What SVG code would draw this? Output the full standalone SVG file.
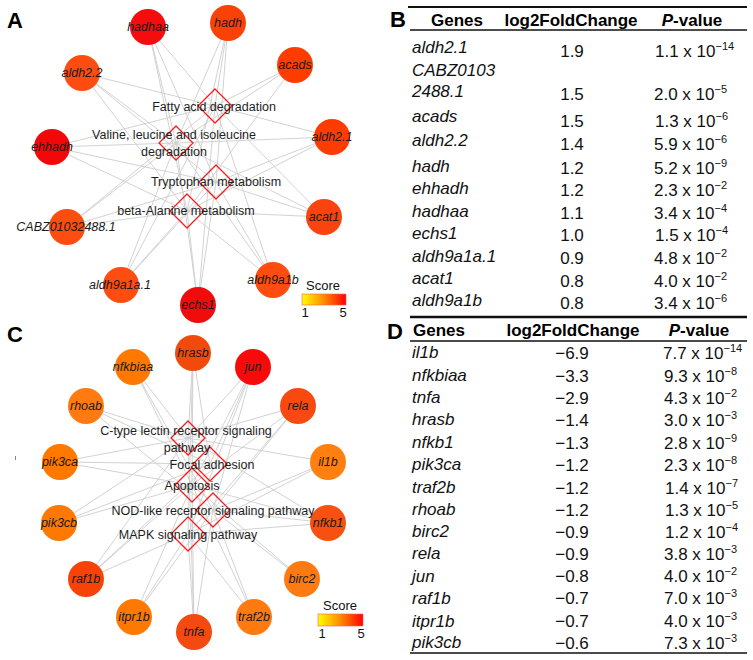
<svg xmlns="http://www.w3.org/2000/svg" width="753" height="660" viewBox="0 0 753 660">
<style>
text{font-family:"Liberation Sans",Arial,sans-serif}
.panel{font-size:22px;font-weight:bold;fill:#000}
.e line{stroke:#cdcdcd;stroke-width:0.9}
.g text{font-size:12.5px;font-style:italic;fill:#1a1a1a;text-anchor:middle}
.p path{fill:none;stroke:#f02020;stroke-width:1.3}
.pl{font-size:12.5px;fill:#1e1e1e;text-anchor:middle}
.lg{font-size:13px;fill:#111;text-anchor:middle}
.th{font-size:17px;font-weight:bold;fill:#000}
.tg{font-size:17px;font-style:italic;fill:#111}
.tv{font-size:17px;fill:#111}
.sup{font-size:11px}
</style>
<defs>
<linearGradient id="sc" x1="0" y1="0" x2="1" y2="0">
<stop offset="0" stop-color="#ffff00"/>
<stop offset="0.5" stop-color="#ff8a00"/>
<stop offset="1" stop-color="#ff0000"/>
</linearGradient>
</defs>
<rect width="753" height="660" fill="#fff"/>

<!-- Panel A -->
<text class="panel" x="7" y="28">A</text>
<g id="edgesA" class="e">
<line x1="148" y1="27" x2="215" y2="106"/><line x1="148" y1="27" x2="176" y2="143"/><line x1="148" y1="27" x2="216" y2="182"/><line x1="148" y1="27" x2="187" y2="211"/>
<line x1="228" y1="23" x2="215" y2="106"/><line x1="228" y1="23" x2="176" y2="143"/><line x1="228" y1="23" x2="216" y2="182"/><line x1="228" y1="23" x2="187" y2="211"/>
<line x1="295" y1="65" x2="215" y2="106"/><line x1="295" y1="65" x2="176" y2="143"/><line x1="295" y1="65" x2="187" y2="211"/>
<line x1="82" y1="73" x2="215" y2="106"/><line x1="82" y1="73" x2="176" y2="143"/><line x1="82" y1="73" x2="216" y2="182"/><line x1="82" y1="73" x2="187" y2="211"/>
<line x1="52" y1="147" x2="215" y2="106"/><line x1="52" y1="147" x2="176" y2="143"/><line x1="52" y1="147" x2="216" y2="182"/><line x1="52" y1="147" x2="187" y2="211"/>
<line x1="332" y1="137" x2="215" y2="106"/><line x1="332" y1="137" x2="176" y2="143"/><line x1="332" y1="137" x2="216" y2="182"/><line x1="332" y1="137" x2="187" y2="211"/>
<line x1="67" y1="227" x2="215" y2="106"/><line x1="67" y1="227" x2="176" y2="143"/><line x1="67" y1="227" x2="216" y2="182"/><line x1="67" y1="227" x2="187" y2="211"/>
<line x1="324" y1="217" x2="215" y2="106"/><line x1="324" y1="217" x2="176" y2="143"/><line x1="324" y1="217" x2="216" y2="182"/><line x1="324" y1="217" x2="187" y2="211"/>
<line x1="121" y1="285" x2="215" y2="106"/><line x1="121" y1="285" x2="176" y2="143"/><line x1="121" y1="285" x2="216" y2="182"/><line x1="121" y1="285" x2="187" y2="211"/>
<line x1="198" y1="305" x2="215" y2="106"/><line x1="198" y1="305" x2="176" y2="143"/><line x1="198" y1="305" x2="216" y2="182"/><line x1="198" y1="305" x2="187" y2="211"/>
<line x1="273" y1="280" x2="215" y2="106"/><line x1="273" y1="280" x2="176" y2="143"/><line x1="273" y1="280" x2="216" y2="182"/><line x1="273" y1="280" x2="187" y2="211"/>
</g>
<g id="pwA" class="p">
<g id="pw-fatty"><path d="M215 89 L232 106 L215 123 L198 106 Z"/></g>
<g id="pw-valine"><path d="M176 126 L193 143 L176 160 L159 143 Z"/></g>
<g id="pw-trp"><path d="M216 165 L233 182 L216 199 L199 182 Z"/></g>
<g id="pw-bala"><path d="M187 194 L204 211 L187 228 L170 211 Z"/></g>
</g>
<g class="g">
<g id="n-hadhaa"><circle cx="148" cy="27" r="18" fill="#f50c0c"/><text x="148" y="31">hadhaa</text></g>
<g id="n-hadh"><circle cx="228" cy="23" r="18" fill="#fa4208"/><text x="228" y="27">hadh</text></g>
<g id="n-acads"><circle cx="295" cy="65" r="18" fill="#ff3c00"/><text x="295" y="69">acads</text></g>
<g id="n-aldh22"><circle cx="82" cy="73" r="18" fill="#ff4c10"/><text x="82" y="77">aldh2.2</text></g>
<g id="n-ehhadh"><circle cx="52" cy="147" r="18" fill="#f20808"/><text x="52" y="151">ehhadh</text></g>
<g id="n-aldh21"><circle cx="332" cy="137" r="18" fill="#ff3c00"/><text x="332" y="141">aldh2.1</text></g>
<g id="n-cabz"><circle cx="67" cy="227" r="18" fill="#ff4c10"/><text x="66" y="231">CABZ01032488.1</text></g>
<g id="n-acat1"><circle cx="324" cy="217" r="18" fill="#fa4410"/><text x="324" y="221">acat1</text></g>
<g id="n-aldh9a1a1"><circle cx="121" cy="285" r="18" fill="#ff4c10"/><text x="120" y="289">aldh9a1a.1</text></g>
<g id="n-echs1"><circle cx="198" cy="305" r="18" fill="#f00c0c"/><text x="198" y="309">echs1</text></g>
<g id="n-aldh9a1b"><circle cx="273" cy="280" r="18" fill="#ff4c10"/><text x="273" y="284">aldh9a1b</text></g>
</g>
<text class="pl" x="214" y="111">Fatty acid degradation</text>
<text class="pl" x="174" y="139">Valine, leucine and isoleucine</text>
<text class="pl" x="174" y="156">degradation</text>
<text class="pl" x="216" y="186">Tryptophan metabolism</text>
<text class="pl" x="186" y="215">beta-Alanine metabolism</text>
<g id="legendA">
<text class="lg" x="323" y="290">Score</text>
<rect x="302" y="294" width="44" height="11" fill="url(#sc)" stroke="#f06060" stroke-width="0.6"/>
<text class="lg" x="305" y="317">1</text>
<text class="lg" x="343" y="317">5</text>
</g>

<!-- Panel C -->
<text class="panel" x="7" y="342">C</text>
<rect x="15" y="456" width="1" height="4" fill="#888"/>
<g id="edgesC" class="e">
<line x1="328" y1="462" x2="188" y2="438"/><line x1="328" y1="462" x2="213" y2="510"/><line x1="328" y1="462" x2="188" y2="534"/>
<line x1="133" y1="367" x2="188" y2="438"/><line x1="133" y1="367" x2="192" y2="485"/><line x1="133" y1="367" x2="213" y2="510"/>
<line x1="194" y1="632" x2="188" y2="438"/><line x1="194" y1="632" x2="192" y2="485"/><line x1="194" y1="632" x2="213" y2="510"/><line x1="194" y1="632" x2="188" y2="534"/>
<line x1="193" y1="353" x2="188" y2="438"/><line x1="193" y1="353" x2="210" y2="464"/><line x1="193" y1="353" x2="192" y2="485"/><line x1="193" y1="353" x2="188" y2="534"/>
<line x1="328" y1="523" x2="188" y2="438"/><line x1="328" y1="523" x2="192" y2="485"/><line x1="328" y1="523" x2="213" y2="510"/><line x1="328" y1="523" x2="188" y2="534"/>
<line x1="60" y1="462" x2="188" y2="438"/><line x1="60" y1="462" x2="210" y2="464"/><line x1="60" y1="462" x2="192" y2="485"/>
<line x1="254" y1="617" x2="192" y2="485"/><line x1="254" y1="617" x2="213" y2="510"/><line x1="254" y1="617" x2="188" y2="534"/>
<line x1="86" y1="406" x2="210" y2="464"/><line x1="86" y1="406" x2="213" y2="510"/><line x1="86" y1="406" x2="188" y2="438"/>
<line x1="302" y1="579" x2="192" y2="485"/><line x1="302" y1="579" x2="213" y2="510"/>
<line x1="298" y1="406" x2="188" y2="438"/><line x1="298" y1="406" x2="192" y2="485"/><line x1="298" y1="406" x2="213" y2="510"/><line x1="298" y1="406" x2="188" y2="534"/>
<line x1="253" y1="367" x2="188" y2="438"/><line x1="253" y1="367" x2="210" y2="464"/><line x1="253" y1="367" x2="192" y2="485"/><line x1="253" y1="367" x2="213" y2="510"/><line x1="253" y1="367" x2="188" y2="534"/>
<line x1="86" y1="579" x2="188" y2="438"/><line x1="86" y1="579" x2="210" y2="464"/><line x1="86" y1="579" x2="192" y2="485"/><line x1="86" y1="579" x2="188" y2="534"/>
<line x1="134" y1="617" x2="192" y2="485"/><line x1="134" y1="617" x2="213" y2="510"/><line x1="134" y1="617" x2="188" y2="534"/>
<line x1="59" y1="523" x2="188" y2="438"/><line x1="59" y1="523" x2="210" y2="464"/><line x1="59" y1="523" x2="192" y2="485"/>
</g>
<g id="pwC" class="p">
<g id="pw-ctype"><path d="M188 421 L205 438 L188 455 L171 438 Z"/></g>
<g id="pw-focal"><path d="M210 447 L227 464 L210 481 L193 464 Z"/></g>
<g id="pw-apop"><path d="M192 468 L209 485 L192 502 L175 485 Z"/></g>
<g id="pw-nod"><path d="M213 493 L230 510 L213 527 L196 510 Z"/></g>
<g id="pw-mapk"><path d="M188 517 L205 534 L188 551 L171 534 Z"/></g>
</g>
<g class="g">
<g id="n-nfkbiaa"><circle cx="133" cy="367" r="18" fill="#ff7800"/><text x="133" y="371">nfkbiaa</text></g>
<g id="n-hrasb"><circle cx="193" cy="353" r="18" fill="#f24a0a"/><text x="193" y="357">hrasb</text></g>
<g id="n-jun"><circle cx="253" cy="367" r="18" fill="#f80a0a"/><text x="253" y="371">jun</text></g>
<g id="n-rela"><circle cx="298" cy="406" r="18" fill="#f84a10"/><text x="298" y="410">rela</text></g>
<g id="n-rhoab"><circle cx="86" cy="406" r="18" fill="#ff7a10"/><text x="86" y="410">rhoab</text></g>
<g id="n-pik3ca"><circle cx="60" cy="462" r="18" fill="#ff7800"/><text x="60" y="466">pik3ca</text></g>
<g id="n-il1b"><circle cx="328" cy="462" r="18" fill="#ff8010"/><text x="328" y="466">il1b</text></g>
<g id="n-pik3cb"><circle cx="59" cy="523" r="18" fill="#ff7800"/><text x="59" y="527">pik3cb</text></g>
<g id="n-nfkb1"><circle cx="328" cy="523" r="18" fill="#f85010"/><text x="328" y="527">nfkb1</text></g>
<g id="n-raf1b"><circle cx="86" cy="579" r="18" fill="#f84208"/><text x="86" y="583">raf1b</text></g>
<g id="n-birc2"><circle cx="302" cy="579" r="18" fill="#ff7a10"/><text x="302" y="583">birc2</text></g>
<g id="n-itpr1b"><circle cx="134" cy="617" r="18" fill="#ff7800"/><text x="134" y="621">itpr1b</text></g>
<g id="n-traf2b"><circle cx="254" cy="617" r="18" fill="#ff7a10"/><text x="254" y="621">traf2b</text></g>
<g id="n-tnfa"><circle cx="194" cy="632" r="18" fill="#f24a10"/><text x="194" y="636">tnfa</text></g>
</g>
<text class="pl" x="186" y="435">C-type lectin receptor signaling</text>
<text class="pl" x="187" y="452">pathway</text>
<text class="pl" x="212" y="469">Focal adhesion</text>
<text class="pl" x="192" y="490">Apoptosis</text>
<text class="pl" x="213" y="515">NOD-like receptor signaling pathway</text>
<text class="pl" x="188" y="539">MAPK signaling pathway</text>
<g id="legendC">
<text class="lg" x="340" y="610">Score</text>
<rect x="318" y="614" width="45" height="12" fill="url(#sc)" stroke="#f06060" stroke-width="0.6"/>
<text class="lg" x="322" y="638">1</text>
<text class="lg" x="361" y="638">5</text>
</g>

<!-- Table B -->
<text class="panel" x="390" y="27">B</text>
<line x1="408" y1="7" x2="747" y2="7" stroke="#111" stroke-width="2"/>
<line x1="410" y1="30" x2="747" y2="30" stroke="#111" stroke-width="1.4"/>
<text class="th" x="457" y="26" text-anchor="middle">Genes</text>
<text class="th" x="571" y="26" text-anchor="middle">log2FoldChange</text>
<text class="th" x="692" y="26" text-anchor="middle"><tspan font-style="italic">P</tspan>-value</text>
<g class="tg">
<text x="412" y="53">aldh2.1</text>
<text x="412" y="76">CABZ0103</text>
<text x="412" y="97">2488.1</text>
<text x="412" y="122">acads</text>
<text x="412" y="146">aldh2.2</text>
<text x="412" y="172">hadh</text>
<text x="412" y="194">ehhadh</text>
<text x="412" y="217">hadhaa</text>
<text x="412" y="239">echs1</text>
<text x="412" y="262">aldh9a1a.1</text>
<text x="412" y="284">acat1</text>
<text x="412" y="306">aldh9a1b</text>
</g>
<g class="tv" text-anchor="middle">
<text x="572" y="57">1.9</text>
<text x="572" y="100">1.5</text>
<text x="572" y="127">1.5</text>
<text x="572" y="150">1.4</text>
<text x="572" y="174">1.2</text>
<text x="572" y="196">1.2</text>
<text x="572" y="219">1.1</text>
<text x="572" y="241">1.0</text>
<text x="572" y="264">0.9</text>
<text x="572" y="287">0.8</text>
<text x="572" y="309">0.8</text>
</g>
<g class="tv">
<text x="655" y="57">1.1 x 10<tspan class="sup" dy="-7">−14</tspan></text>
<text x="654" y="100">2.0 x 10<tspan class="sup" dy="-7">−5</tspan></text>
<text x="655" y="127">1.3 x 10<tspan class="sup" dy="-7">−6</tspan></text>
<text x="654" y="150">5.9 x 10<tspan class="sup" dy="-7">−6</tspan></text>
<text x="654" y="174">5.2 x 10<tspan class="sup" dy="-7">−9</tspan></text>
<text x="654" y="196">2.3 x 10<tspan class="sup" dy="-7">−2</tspan></text>
<text x="654" y="219">3.4 x 10<tspan class="sup" dy="-7">−4</tspan></text>
<text x="655" y="241">1.5 x 10<tspan class="sup" dy="-7">−4</tspan></text>
<text x="654" y="264">4.8 x 10<tspan class="sup" dy="-7">−2</tspan></text>
<text x="654" y="287">4.0 x 10<tspan class="sup" dy="-7">−2</tspan></text>
<text x="654" y="309">3.4 x 10<tspan class="sup" dy="-7">−6</tspan></text>
</g>
<line x1="410" y1="317" x2="747" y2="317" stroke="#111" stroke-width="2.5"/>

<!-- Table D -->
<text class="panel" x="387" y="339">D</text>
<text class="th" x="413" y="336">Genes</text>
<text class="th" x="573" y="336" text-anchor="middle">log2FoldChange</text>
<text class="th" x="699" y="336" text-anchor="middle"><tspan font-style="italic">P</tspan>-value</text>
<line x1="410" y1="341" x2="747" y2="341" stroke="#111" stroke-width="1.4"/>
<g class="tg">
<text x="412" y="358">il1b</text>
<text x="412" y="381">nfkbiaa</text>
<text x="412" y="403">tnfa</text>
<text x="412" y="425">hrasb</text>
<text x="412" y="448">nfkb1</text>
<text x="412" y="470">pik3ca</text>
<text x="412" y="493">traf2b</text>
<text x="412" y="515">rhoab</text>
<text x="412" y="537">birc2</text>
<text x="412" y="559">rela</text>
<text x="412" y="582">jun</text>
<text x="412" y="604">raf1b</text>
<text x="412" y="627">itpr1b</text>
<text x="412" y="648">pik3cb</text>
</g>
<g class="tv" text-anchor="middle">
<text x="572" y="359">−6.9</text>
<text x="572" y="382">−3.3</text>
<text x="572" y="404">−2.9</text>
<text x="572" y="426">−1.4</text>
<text x="572" y="449">−1.3</text>
<text x="572" y="471">−1.2</text>
<text x="572" y="494">−1.2</text>
<text x="572" y="516">−1.2</text>
<text x="572" y="538">−0.9</text>
<text x="572" y="560">−0.9</text>
<text x="572" y="582">−0.8</text>
<text x="572" y="604">−0.7</text>
<text x="572" y="627">−0.7</text>
<text x="572" y="649">−0.6</text>
</g>
<g class="tv">
<text x="663" y="359">7.7 x 10<tspan class="sup" dy="-7">−14</tspan></text>
<text x="664" y="382">9.3 x 10<tspan class="sup" dy="-7">−8</tspan></text>
<text x="664" y="404">4.3 x 10<tspan class="sup" dy="-7">−2</tspan></text>
<text x="664" y="426">3.0 x 10<tspan class="sup" dy="-7">−3</tspan></text>
<text x="664" y="449">2.8 x 10<tspan class="sup" dy="-7">−9</tspan></text>
<text x="664" y="471">2.3 x 10<tspan class="sup" dy="-7">−8</tspan></text>
<text x="665" y="494">1.4 x 10<tspan class="sup" dy="-7">−7</tspan></text>
<text x="665" y="516">1.3 x 10<tspan class="sup" dy="-7">−5</tspan></text>
<text x="665" y="538">1.2 x 10<tspan class="sup" dy="-7">−4</tspan></text>
<text x="664" y="560">3.8 x 10<tspan class="sup" dy="-7">−3</tspan></text>
<text x="664" y="582">4.0 x 10<tspan class="sup" dy="-7">−2</tspan></text>
<text x="664" y="604">7.0 x 10<tspan class="sup" dy="-7">−3</tspan></text>
<text x="664" y="627">4.0 x 10<tspan class="sup" dy="-7">−3</tspan></text>
<text x="664" y="649">7.3 x 10<tspan class="sup" dy="-7">−3</tspan></text>
</g>
<line x1="410" y1="653" x2="747" y2="653" stroke="#111" stroke-width="1.4"/>
</svg>
